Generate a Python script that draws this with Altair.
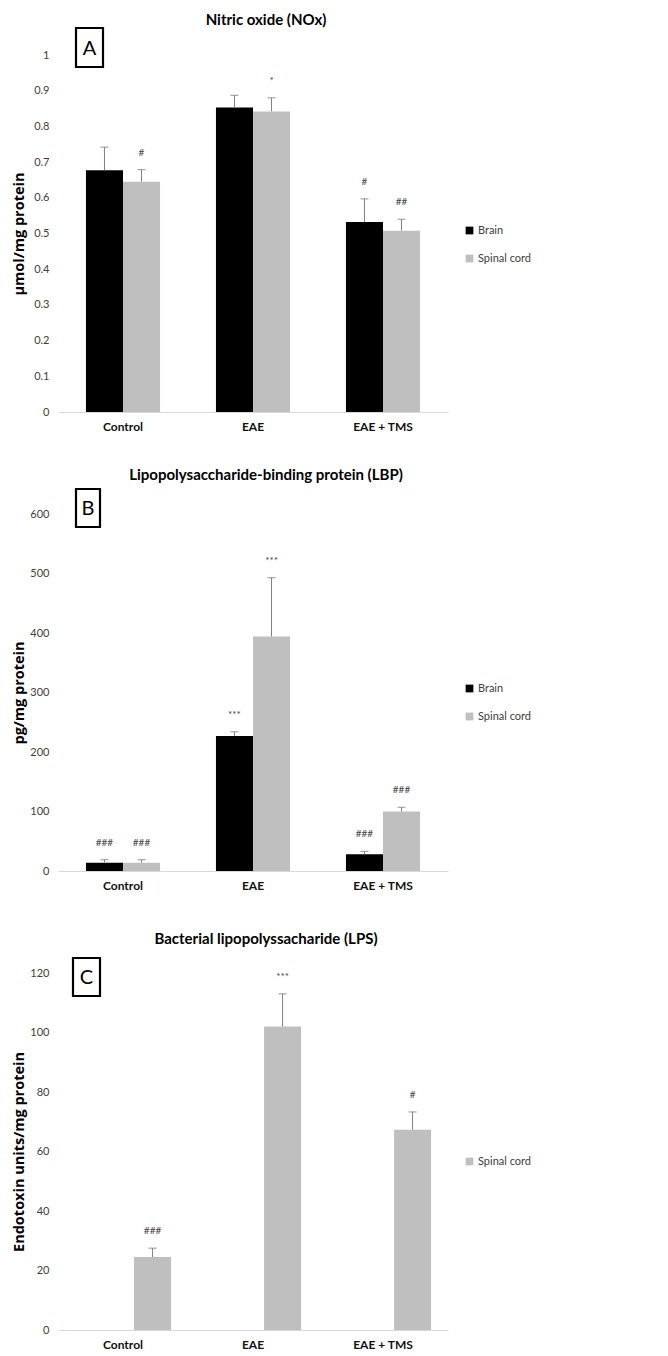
import altair as alt
import pandas as pd

groups = ["Control", "EAE", "EAE + TMS"]
series_ab = ["Brain", "Spinal cord"]
series_c = ["Spinal cord"]

# Panel A - Nitric oxide (umol/mg protein)
no_brain = [0.677, 0.853, 0.532]
no_brain_err = [0.065, 0.034, 0.065]
no_brain_sig = ["", "", "#"]
no_spinal = [0.645, 0.842, 0.508]
no_spinal_err = [0.034, 0.038, 0.032]
no_spinal_sig = ["#", "*", "##"]
no_ticks = [0, 0.1, 0.2, 0.3, 0.4, 0.5, 0.6, 0.7, 0.8, 0.9, 1]

# Panel B - LBP (pg/mg protein)
lbp_brain = [14, 227, 28]
lbp_brain_err = [5, 7, 5]
lbp_brain_sig = ["###", "***", "###"]
lbp_spinal = [14, 394, 100]
lbp_spinal_err = [5, 99, 7]
lbp_spinal_sig = ["###", "***", "###"]
lbp_ticks = [0, 100, 200, 300, 400, 500, 600]

# Panel C - LPS (endotoxin units/mg protein)
lps_spinal = [24.5, 102, 67.3]
lps_spinal_err = [3, 11, 6]
lps_spinal_sig = ["###", "***", "#"]
lps_ticks = [0, 20, 40, 60, 80, 100, 120]

BLACK = "#000000"
GREY = "#bfbfbf"
ERR = "#808080"
TXT = "#404040"
FONT = "Lato"
TFONT = "Open Sans"

W = 390
H = 357


def frame(parts):
    rows = []
    for s, vals, errs, sigs in parts:
        for g, v, e, t in zip(groups, vals, errs, sigs):
            rows.append(dict(group=g, series=s, value=v, err=e, top=v + e, sig=t))
    return pd.DataFrame(rows)


def panel(df, ser, colors, ticks, yfmt, ytitle, title, letter, pad_inner,
          box, title_y, legend_y):
    xenc = alt.X(
        "group:N", sort=groups,
        scale=alt.Scale(paddingInner=pad_inner, paddingOuter=pad_inner / 2),
        axis=alt.Axis(title=None, labelAngle=0, domain=True, domainColor="#d9d9d9",
                      domainWidth=1.2, ticks=False, labelFont=FONT, labelFontSize=12,
                      labelFontWeight="bold", labelColor="#111111", labelPadding=9),
    )
    xoff = alt.XOffset("series:N", sort=ser, scale=alt.Scale(domain=ser))
    yscale = alt.Scale(domain=[ticks[0], ticks[-1]], nice=False)
    yaxis = alt.Axis(values=ticks, format=yfmt, title=ytitle, grid=False, domain=False,
                     ticks=False, labelOverlap=False, labelFont=FONT, labelFontSize=11,
                     labelColor=TXT, labelPadding=9, titleFont=TFONT, titleFontSize=14.5,
                     titleFontWeight="bold", titleColor="#000000", titleX=-39,
                     titleY=H / 2, titleBaseline="middle", titleAngle=-90)
    y_val = alt.Y("value:Q", scale=yscale, axis=yaxis)
    y_top = alt.Y("top:Q", scale=yscale, axis=yaxis)
    color = alt.Color(
        "series:N", sort=ser,
        scale=alt.Scale(domain=ser, range=colors),
        legend=alt.Legend(title=None, orient="none", legendX=406, legendY=legend_y,
                          symbolType="square", symbolSize=60, symbolStrokeWidth=0,
                          labelFont=FONT, labelFontSize=11, labelColor=TXT,
                          rowPadding=16, padding=0, labelOffset=3),
    )
    base = alt.Chart(df)
    bars = base.mark_bar().encode(x=xenc, xOffset=xoff, y=y_val, color=color)
    rules = base.mark_rule(color=ERR, strokeWidth=1).encode(
        x=xenc, xOffset=xoff, y=y_val, y2="top:Q")
    caps = base.mark_tick(color=ERR, size=8, thickness=1.2).encode(
        x=xenc, xOffset=xoff, y=y_top)
    sigs = base.mark_text(dy=-17, font=FONT, fontSize=10, color="#444444").encode(
        x=xenc, xOffset=xoff, y=y_top, text="sig:N")

    lab = alt.Chart(pd.DataFrame({"letter": [letter], "title": [title]}))
    x0, x1, y0, y1 = box
    rect = lab.mark_rect(fill="white", stroke="#000000", strokeWidth=2.2).encode(
        x=alt.value(x0), x2=alt.value(x1), y=alt.value(y0), y2=alt.value(y1))
    ltxt = lab.mark_text(font=FONT, fontSize=20, color="#000000", baseline="middle").encode(
        x=alt.value((x0 + x1) / 2), y=alt.value((y0 + y1) / 2 + 1), text="letter:N")
    ttxt = lab.mark_text(font=FONT, fontSize=15, fontWeight="bold", color="#000000",
                         baseline="middle").encode(
        x=alt.value(208), y=alt.value(title_y), text="title:N")

    return alt.layer(bars, rules, caps, sigs, rect, ltxt, ttxt).properties(
        width=W, height=H)


df_a = frame([("Brain", no_brain, no_brain_err, no_brain_sig),
              ("Spinal cord", no_spinal, no_spinal_err, no_spinal_sig)])
df_b = frame([("Brain", lbp_brain, lbp_brain_err, lbp_brain_sig),
              ("Spinal cord", lbp_spinal, lbp_spinal_err, lbp_spinal_sig)])
df_c = frame([("Spinal cord", lps_spinal, lps_spinal_err, lps_spinal_sig)])

pa = panel(df_a, series_ab, [BLACK, GREY], no_ticks, "~g", "µmol/mg protein",
           "Nitric oxide (NOx)", "A", 0.43, (18, 45, -27, 12), -35, 170)
pb = panel(df_b, series_ab, [BLACK, GREY], lbp_ticks, "d", "pg/mg protein",
           "Lipopolysaccharide-binding protein  (LBP)", "B", 0.43, (18, 42, -25, 13), -39, 169)
pc = panel(df_c, series_c, [GREY], lps_ticks, "d", "Endotoxin units/mg protein",
           "Bacterial lipopolyssacharide (LPS)", "C", 0.6, (15, 42, -15, 23), -34, 183)

chart = alt.vconcat(pa, pb, pc, spacing=102, bounds="flush").resolve_scale(
    color="independent", y="independent", x="independent"
).resolve_legend(color="independent").properties(
    padding={"left": 3, "top": 5, "right": 5, "bottom": 5}
).configure(background="white").configure_view(strokeWidth=0, stroke=None)

chart.save("out.html", embed_options={"renderer": "svg", "actions": False})
